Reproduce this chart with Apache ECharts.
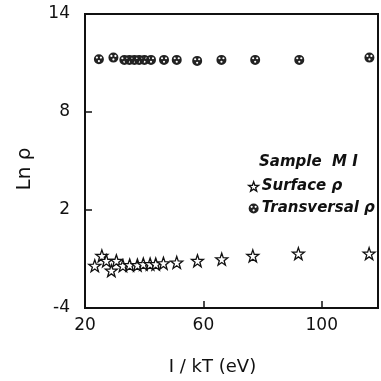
<!DOCTYPE html>
<html>
<head>
<meta charset="utf-8">
<script src="https://cdn.jsdelivr.net/npm/echarts@6/dist/echarts.min.js"></script>
<style>
  html, body {margin: 0; padding: 0; background: #fff;}
  #chart {width: 381px; height: 381px;}
</style>
</head>
<body>
<div id="chart"></div>
<script>
// 1/kT (eV) and Ln rho for the two measurements
const surfaceX = [23.3, 25.7, 27.2, 28.9, 30.6, 32.8, 35.1, 37.7, 39.7, 42.0, 43.9, 46.5, 51.0, 58.0, 66.2, 76.7, 92.1, 116.0];
const surfaceY = [-1.41, -0.81, -1.11, -1.71, -1.11, -1.41, -1.37, -1.37, -1.31, -1.31, -1.31, -1.26, -1.21, -1.11, -1.01, -0.81, -0.67, -0.67];
const transX = [24.7, 29.6, 33.3, 35.0, 36.7, 38.3, 40.1, 42.3, 46.7, 51.0, 57.9, 66.1, 77.5, 92.4, 116.1];
const transY = [11.23, 11.33, 11.19, 11.19, 11.19, 11.19, 11.19, 11.19, 11.19, 11.19, 11.13, 11.19, 11.19, 11.19, 11.33];
const xTicks = [20, 60, 100];
const yTicks = [-4, 2, 8, 14];

const star = 'path://M0,-10 L2.35,-3.24 9.51,-3.09 3.8,1.24 5.88,8.09 0,4 -5.88,8.09 -3.8,1.24 -9.51,-3.09 -2.35,-3.24 Z';
// dark disc with little white holes
const dotted = 'path://M0,-10 A10,10 0 1,1 0,10 A10,10 0 1,1 0,-10 Z' +
  'M-4,-5.5 A2.2,2.2 0 1,0 -4,-1.1 A2.2,2.2 0 1,0 -4,-5.5 Z' +
  'M4,-5.5 A2.2,2.2 0 1,0 4,-1.1 A2.2,2.2 0 1,0 4,-5.5 Z' +
  'M0,1.5 A2.2,2.2 0 1,0 0,5.9 A2.2,2.2 0 1,0 0,1.5 Z';

const font = 'DejaVu Sans';
const chart = echarts.init(document.getElementById('chart'));
chart.setOption({
  animation: false,
  backgroundColor: '#fff',
  grid: {
    left: 85,
    right: 3,
    top: 14,
    bottom: 68,
    show: true,
    borderColor: '#111',
    borderWidth: 2,
  },
  xAxis: {
    type: 'value',
    min: 20,
    max: 119,
    name: 'I / kT (eV)',
    nameLocation: 'middle',
    nameGap: 50,
    nameTextStyle: {fontFamily: font, fontSize: 18, color: '#111', padding: [0, 38, 0, 0]},
    splitLine: {show: false},
    axisLine: {show: true, onZero: false, lineStyle: {color: '#111', width: 2}},
    axisTick: {show: true, inside: true, length: 7, customValues: xTicks, lineStyle: {color: '#111', width: 1.5}},
    axisLabel: {customValues: xTicks, margin: 9, fontFamily: font, fontSize: 17, color: '#111'},
  },
  yAxis: {
    type: 'value',
    min: -4,
    max: 14,
    name: 'Ln ρ',
    nameLocation: 'middle',
    nameRotate: 90,
    nameGap: 50,
    nameTextStyle: {fontFamily: font, fontSize: 20, color: '#111', padding: [0, 16, 0, 0]},
    splitLine: {show: false},
    axisLine: {show: true, onZero: false, lineStyle: {color: '#111', width: 2}},
    axisTick: {show: true, inside: true, length: 7, customValues: yTicks, lineStyle: {color: '#111', width: 1.5}},
    axisLabel: {customValues: yTicks, margin: 15, fontFamily: font, fontSize: 17, color: '#111'},
  },
  legend: {
    orient: 'vertical',
    left: 243,
    top: 174,
    itemWidth: 10,
    itemHeight: 10,
    itemGap: 7,
    textStyle: {fontFamily: font, fontSize: 15, fontStyle: 'italic', fontWeight: 'bold', color: '#111', padding: [0, 0, 0, -2]},
    data: [
      {name: 'Surface ρ', icon: star, itemStyle: {color: '#fff', borderColor: '#111', borderWidth: 1.3}},
      {name: 'Transversal ρ', icon: dotted, itemStyle: {color: '#222'}},
    ],
  },
  graphic: [{
    type: 'text',
    left: 259,
    top: 155,
    style: {text: 'Sample  M I', font: 'italic bold 15px "DejaVu Sans"', fill: '#111'},
  }],
  series: [
    {
      name: 'Surface ρ',
      type: 'scatter',
      symbol: star,
      symbolSize: 12,
      itemStyle: {color: '#fff', borderColor: '#111', borderWidth: 1.3, opacity: 1},
      data: surfaceX.map((x, i) => [x, surfaceY[i]]),
    },
    {
      name: 'Transversal ρ',
      type: 'scatter',
      symbol: dotted,
      symbolSize: 10,
      itemStyle: {color: '#222', opacity: 1},
      data: transX.map((x, i) => [x, transY[i]]),
    },
  ],
});
</script>
</body>
</html>
